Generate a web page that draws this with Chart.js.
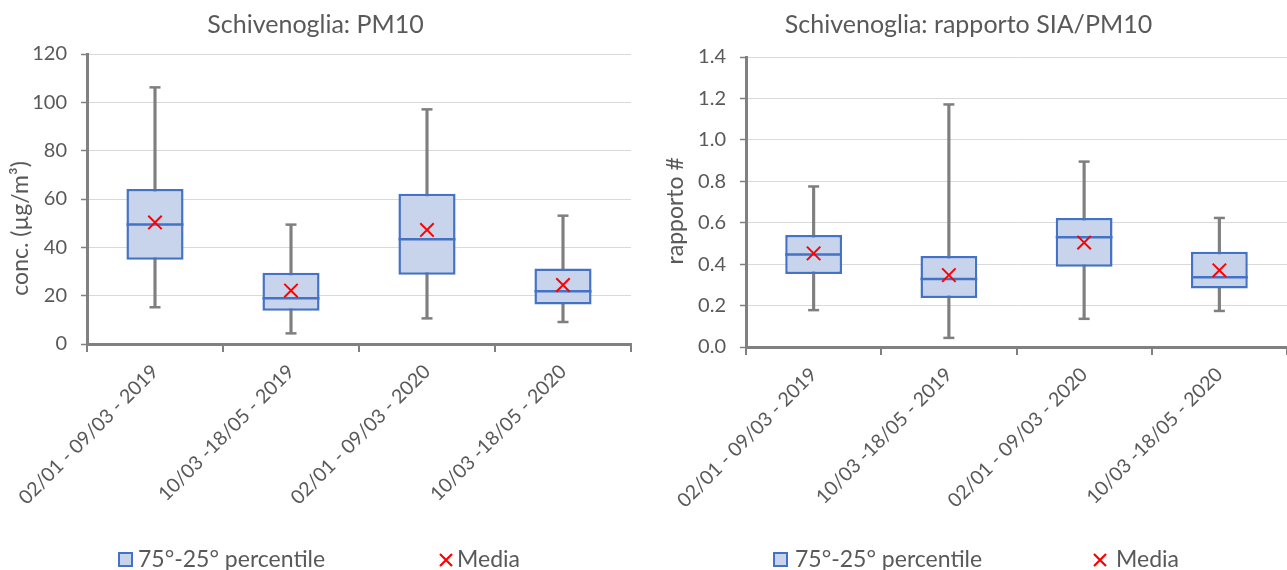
<!DOCTYPE html>
<html><head><meta charset="utf-8">
<script src="https://cdn.jsdelivr.net/npm/chart.js@4.4.1/dist/chart.umd.min.js"></script>
<style>
html,body{margin:0;padding:0;background:#fff;}
body{width:1287px;height:570px;overflow:hidden;position:relative;font-family:Lato, sans-serif;}
.wrap{position:absolute;top:0;height:570px;}
#w1{left:0;width:662px;}
#w2{left:650px;width:820px;}
.lg{position:absolute;top:544px;height:28px;line-height:28px;font-size:23px;color:#595959;white-space:nowrap;}
.sq{position:absolute;top:552px;width:11px;height:11px;border:2px solid #4472c4;background:#c7d4ec;}
.xm{position:absolute;top:553px;width:14px;height:14px;}
</style></head>
<body>
<div class="wrap" id="w1"><canvas id="c1"></canvas></div>
<div class="wrap" id="w2"><canvas id="c2"></canvas></div>

<div class="sq" style="left:118px"></div><div class="lg" style="left:138px">75°-25° percentile</div>
<svg class="xm" style="left:439px" viewBox="0 0 14 14"><path d="M1 1L13 13M13 1L1 13" stroke="#ff0000" stroke-width="2.2"/></svg><div class="lg" style="left:457px">Media</div>

<div class="sq" style="left:773px"></div><div class="lg" style="left:795px">75°-25° percentile</div>
<svg class="xm" style="left:1093px" viewBox="0 0 14 14"><path d="M1 1L13 13M13 1L1 13" stroke="#ff0000" stroke-width="2.2"/></svg><div class="lg" style="left:1116px">Media</div>

<script>
// ---- data ----
const categories = ['02/01 - 09/03 - 2019', '10/03 -18/05 - 2019', '02/01 - 09/03 - 2020', '10/03 -18/05 - 2020'];

// PM10 (µg/m³)
const pmMin    = [15.2, 4.4, 10.6, 9.1];
const pmQ1     = [34.9, 13.8, 28.7, 16.3];
const pmMedian = [49.5, 18.9, 43.3, 21.8];
const pmQ3     = [64.1, 29.5, 62.2, 31.2];
const pmMax    = [106.2, 49.4, 97.1, 53.1];
const pmMean   = [50.3, 22.1, 47.2, 24.4];
const pmTicks  = [0, 20, 40, 60, 80, 100, 120];
const pmTickLabels = ['0', '20', '40', '60', '80', '100', '120'];

// SIA/PM10 ratio
const rMin    = [0.178, 0.044, 0.136, 0.174];
const rQ1     = [0.352, 0.237, 0.388, 0.283];
const rMedian = [0.447, 0.328, 0.530, 0.337];
const rQ3     = [0.541, 0.439, 0.623, 0.460];
const rMax    = [0.775, 1.171, 0.895, 0.623];
const rMean   = [0.452, 0.347, 0.504, 0.370];
const rTicks  = [0, 0.2, 0.4, 0.6, 0.8, 1.0, 1.2, 1.4];
const rTickLabels = ['0.0', '0.2', '0.4', '0.6', '0.8', '1.0', '1.2', '1.4'];

// ---- rendering ----
const FILL = '#c7d4ec', BLUE = '#4472c4', GREY = '#7f7f7f', RED = '#ff0000', TXT = '#595959';
const FONT = 'Lato';

function makeChart(id, o) {
  const datasets = [
    { type: 'bar', label: 'whisker', data: o.min.map((v, i) => [v, o.max[i]]),
      backgroundColor: GREY, borderWidth: 0, barThickness: 2.5, grouped: false, order: 6 },
    { type: 'bar', label: '75°-25° percentile', data: o.q1.map((v, i) => [v, o.q3[i]]),
      backgroundColor: FILL, borderColor: BLUE, borderSkipped: false, borderWidth: 2.5,
      grouped: false, barPercentage: 0.42, categoryPercentage: 1, order: 5 },
    { type: 'line', label: 'median', data: o.med, showLine: false, pointStyle: 'line',
      pointRadius: o.medR, pointBorderColor: BLUE, pointBorderWidth: 2.5, borderColor: BLUE, order: 4 },
    { type: 'line', label: 'max', data: o.max, showLine: false, pointStyle: 'line',
      pointRadius: 5.5, pointBorderColor: GREY, pointBorderWidth: 2.5, borderColor: GREY, order: 3 },
    { type: 'line', label: 'min', data: o.min, showLine: false, pointStyle: 'line',
      pointRadius: 5.5, pointBorderColor: GREY, pointBorderWidth: 2.5, borderColor: GREY, order: 3 },
    { type: 'line', label: 'Media', data: o.mean, showLine: false, pointStyle: 'crossRot',
      pointRadius: 9.5, pointBorderColor: RED, pointBorderWidth: 2, borderColor: RED, order: 1 }
  ];
  return new Chart(document.getElementById(id), {
    type: 'bar',
    data: { labels: categories, datasets },
    options: {
      responsive: true, maintainAspectRatio: false, animation: false,
      events: [],
      layout: { padding: { left: 0, right: o.padR, top: 0, bottom: o.padB } },
      plugins: {
        legend: { display: false }, tooltip: { enabled: false },
        title: { display: true, text: o.title, color: TXT,
          font: { family: FONT, size: 25, weight: 'normal' },
          padding: { top: 10, bottom: o.titlePadB } }
      },
      scales: {
        x: {
          offset: true,
          grid: { display: true, offset: true, drawOnChartArea: false, drawTicks: true,
                  tickLength: 8, color: '#808080', lineWidth: 2 },
          border: { display: true, color: '#808080', width: 3 },
          ticks: { minRotation: 45, maxRotation: 45, autoSkip: false, color: TXT,
                   font: { family: FONT, size: 19.5 }, padding: 8 },
          afterFit: s => { s.height = 200; s.paddingLeft = 0; s.paddingRight = 0; }
        },
        y: {
          min: o.ticks[0], max: o.ticks[o.ticks.length - 1],
          afterBuildTicks: s => { s.ticks = o.ticks.map(v => ({ value: v })); },
          ticks: { color: TXT, font: { family: FONT, size: 20 }, padding: 14,
                   callback: (v, i) => o.tickLabels[i] },
          grid: { color: '#d9d9d9', lineWidth: 1, drawTicks: true, tickLength: 6,
                  tickColor: '#808080', tickWidth: 1.5 },
          border: { display: true, color: '#808080', width: 3 },
          title: { display: true, text: o.ytitle, color: TXT,
                   font: { family: FONT, size: 23 }, padding: { top: o.ytPad, bottom: 0 } },
          afterFit: s => { s.width = o.yw; s.paddingTop = 0; s.paddingBottom = 0; }
        }
      }
    }
  });
}

makeChart('c1', {
  title: 'Schivenoglia: PM10', ytitle: 'conc. (µg/m³)          ',
  min: pmMin, q1: pmQ1, med: pmMedian, q3: pmQ3, max: pmMax, mean: pmMean,
  ticks: pmTicks, tickLabels: pmTickLabels, medR: 28.5,
  yw: 87, ytPad: 7, padR: 31, padB: 26, titlePadB: 14
});
makeChart('c2', {
  title: 'Schivenoglia: rapporto SIA/PM10', ytitle: 'rapporto #   ',
  min: rMin, q1: rQ1, med: rMedian, q3: rQ3, max: rMax, mean: rMean,
  ticks: rTicks, tickLabels: rTickLabels, medR: 28.4,
  yw: 96, ytPad: 12, padR: 183, padB: 23, titlePadB: 17
});
</script>
</body></html>
